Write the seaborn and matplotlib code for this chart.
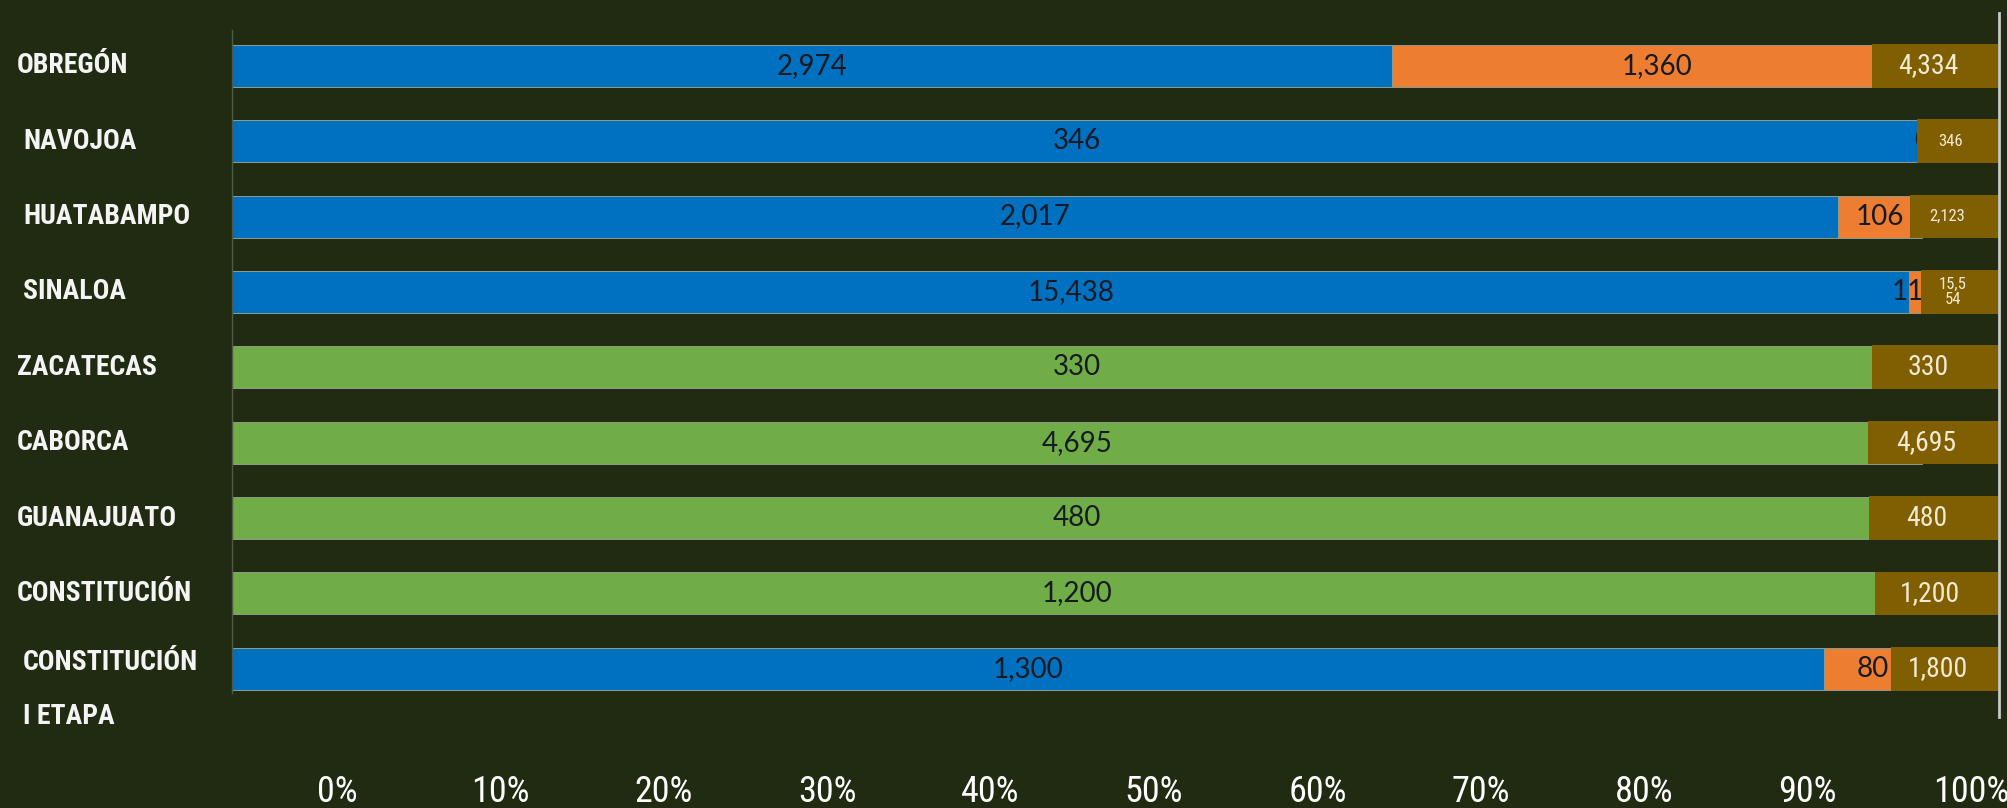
import numpy as np
import pandas as pd
import matplotlib
matplotlib.use("Agg")
import matplotlib.pyplot as plt
import matplotlib.transforms as mtransforms
import seaborn as sns

# data
sites = ["OBREGÓN", "NAVOJOA", "HUATABAMPO", "SINALOA", "ZACATECAS",
         "CABORCA", "GUANAJUATO", "CONSTITUCIÓN", "CONSTITUCIÓN\nI ETAPA"]
blue_vals = [2974, 346, 2017, 15438, np.nan, np.nan, np.nan, np.nan, 1300]
orange_vals = [1360, 0, 106, 116, np.nan, np.nan, np.nan, np.nan, 80]
green_vals = [np.nan, np.nan, np.nan, np.nan, 330, 4695, 480, 1200, np.nan]
total_vals = [4334, 346, 2123, 15554, 330, 4695, 480, 1200, 1800]
pct_ticks = [0, 10, 20, 30, 40, 50, 60, 70, 80, 90, 100]

W, H = 2008, 808
BG = "#202b11"
BLUE = "#0070c0"
ORANGE = "#ed7d31"
GREEN = "#70ad47"
BROWN = "#7f5f02"
CREAM = "#f3ead2"
COND = ["Liberation Sans Narrow", "Roboto Condensed", "DejaVu Sans"]

sns.set_style("dark")
plt.rcParams["font.family"] = COND

df = pd.DataFrame({"site": sites, "blue": blue_vals,
                   "orange": orange_vals, "green": green_vals})
df["total"] = df[["blue", "orange", "green"]].sum(axis=1)
df["orange_end"] = (df["blue"] + df["orange"]) / df["total"]
df["blue_share"] = df["blue"] / df["total"]
df["green_share"] = df["green"] / df["total"]

fig = plt.figure(figsize=(W / 100, H / 100), dpi=100, facecolor=BG)
ax = fig.add_axes([232 / W, (H - 717) / H, (1999 - 232) / W, (717 - 13) / H])
ax.set_facecolor(BG)

common = dict(y="site", order=sites, orient="h", width=0.557, errorbar=None,
              saturation=1, edgecolor="#8f9a8c", linewidth=0.7, ax=ax)
sns.barplot(data=df, x="orange_end", color=ORANGE, **common)
sns.barplot(data=df, x="blue_share", color=BLUE, **common)
sns.barplot(data=df, x="green_share", color=GREEN, **common)

# value labels inside the segments
seg_kw = dict(ha="center", va="center", fontsize=20, family="Lato",
              color="#161a22", zorder=3)
for i, r in df.iterrows():
    if not np.isnan(r["blue"]):
        ax.text(r["blue_share"] / 2, i, f"{int(r['blue']):,}", **seg_kw)
    if not np.isnan(r["orange"]):
        ax.text((r["blue_share"] + r["orange_end"]) / 2, i,
                f"{int(r['orange']):,}", **seg_kw)
    if not np.isnan(r["green"]):
        ax.text(r["green_share"] / 2, i, f"{int(r['green']):,}", **seg_kw)

# brown total boxes on the right end
px = lambda p: (p - 232) / 1690
box_left = [px(p) for p in [1872, 1917, 1910, 1921, 1872, 1868, 1869, 1875, 1891]]
box_right = px(1998)
total_fs = [20, 12, 12, 12, 20, 20, 20, 20, 20]
ax.barh(range(len(sites)), [box_right - b for b in box_left], left=box_left,
        height=0.58, color=BROWN, edgecolor="none", linewidth=0, zorder=4)
for i, v in enumerate(total_vals):
    txt = f"{v:,}"
    if i == 3:
        txt = txt[:4] + "\n" + txt[4:]
    ax.text((box_left[i] + box_right) / 2 - 0.004, i, txt, ha="center",
            va="center", color=CREAM, fontsize=total_fs[i], linespacing=0.95,
            family=COND, zorder=5)

# category names at the far left
indent = [17, 23, 23, 23, 17, 17, 17, 17, 23]
trans = mtransforms.blended_transform_factory(fig.transFigure, ax.transData)
for i, name in enumerate(sites):
    lines = name.split("\n")
    for k, line in enumerate(lines):
        y = i - (0.08 if len(lines) > 1 else 0) + k * 0.72
        ax.text(indent[i] / W, y, line, transform=trans, ha="left",
                va="center", fontsize=20, fontweight="bold", color="#f4f4f4")

ax.set_xlim(0, px(1999))
ax.set_ylim(8.64, -0.70)
ax.set_xticks([])
ax.set_yticks([])
ax.set_xlabel("")
ax.set_ylabel("")
for s in ["top", "bottom"]:
    ax.spines[s].set_visible(False)
ax.spines["right"].set_color("#c9c9c9")
ax.spines["right"].set_linewidth(2)
ax.spines["left"].set_color("#4d5a45")
ax.spines["left"].set_linewidth(1)
ax.spines["left"].set_bounds(-0.48, 8.32)
ax.grid(False)

# percentage scale underneath
tax = fig.add_axes([337 / W, 34 / H, (1971 - 337) / W, 0.0001])
tax.set_facecolor("none")
tax.set_xlim(0, 100)
tax.set_xticks(pct_ticks)
tax.set_xticklabels([f"{t}%" for t in pct_ticks])
tax.set_yticks([])
tax.tick_params(axis="x", length=0, pad=0, colors="white", labelsize=26)
for s in tax.spines.values():
    s.set_visible(False)
tax.grid(False)

fig.savefig("out.png", dpi=100, facecolor=BG)
